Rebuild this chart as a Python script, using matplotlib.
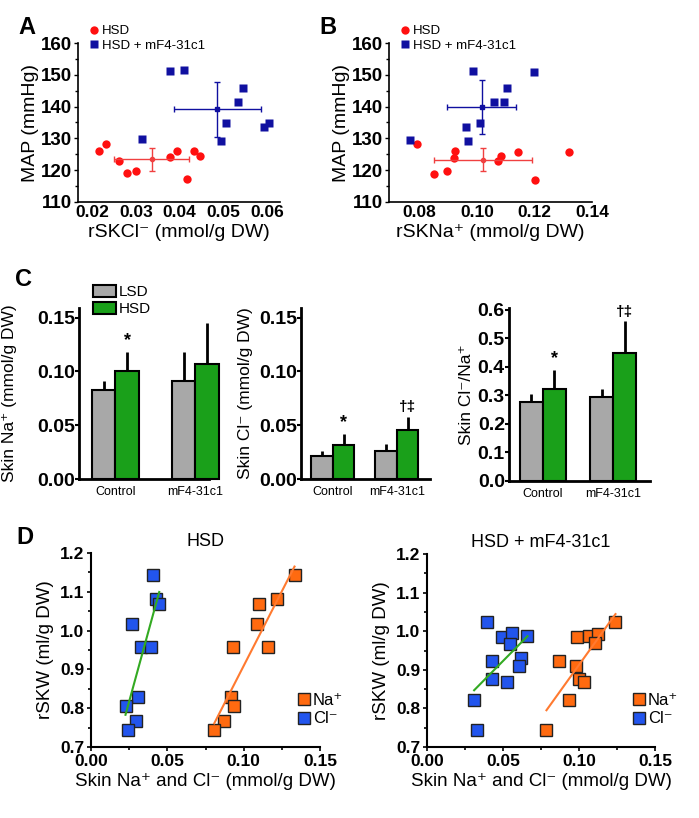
import numpy as np
import matplotlib
matplotlib.use("Agg")
import matplotlib.pyplot as plt
from matplotlib.patches import Patch
from matplotlib.lines import Line2D

plt.rcParams['font.family'] = ['Liberation Sans', 'DejaVu Sans']

# ---- panel A / B data (MAP vs skin ions) ----
a_hsd_x = [0.0216, 0.0232, 0.0262, 0.0280, 0.0299, 0.0377, 0.0395, 0.0416, 0.0432, 0.0446]
a_hsd_y = [126.0, 128.2, 122.9, 119.1, 119.7, 124.2, 126.0, 117.2, 126.0, 124.5]
a_mf4_x = [0.0313, 0.0379, 0.0409, 0.0494, 0.0506, 0.0533, 0.0545, 0.0594, 0.0605]
a_mf4_y = [129.8, 151.2, 151.5, 129.2, 134.8, 141.4, 145.8, 133.6, 134.8]

b_hsd_x = [0.0792, 0.0850, 0.0895, 0.0922, 0.0920, 0.1072, 0.1083, 0.1142, 0.1202, 0.1319]
b_hsd_y = [128.1, 118.8, 119.7, 126.0, 123.9, 122.8, 124.5, 125.8, 116.9, 125.8]
b_mf4_x = [0.0768, 0.0986, 0.1198, 0.1105, 0.1058, 0.1093, 0.0963, 0.1009, 0.0970]
b_mf4_y = [129.5, 151.3, 151.0, 145.8, 141.5, 141.5, 133.7, 134.8, 129.3]

# ---- panel C data (bars) ----
groups = ['Control', 'mF4-31c1']
na_lsd = [0.0831, 0.0915]
na_lsd_err = [0.0084, 0.0267]
na_hsd = [0.1006, 0.1071]
na_hsd_err = [0.0173, 0.0375]
cl_lsd = [0.0218, 0.0260]
cl_lsd_err = [0.0042, 0.0067]
cl_hsd = [0.0318, 0.0458]
cl_hsd_err = [0.0100, 0.0122]
ratio_lsd = [0.278, 0.296]
ratio_lsd_err = [0.027, 0.026]
ratio_hsd = [0.324, 0.450]
ratio_hsd_err = [0.066, 0.110]

# ---- panel D data ----
d1_na_x = [0.1333, 0.1219, 0.1103, 0.1088, 0.0932, 0.1162, 0.0917, 0.0939, 0.0868, 0.0807]
d1_cl_x = [0.0408, 0.0423, 0.0447, 0.0270, 0.0329, 0.0395, 0.0307, 0.0226, 0.0292, 0.0241]
d1_y = [1.144, 1.081, 1.069, 1.017, 0.959, 0.959, 0.829, 0.805, 0.766, 0.745]
d2_cl_x = [0.0393, 0.0495, 0.0561, 0.0661, 0.0546, 0.0430, 0.0616, 0.0605, 0.0426, 0.0524, 0.0310, 0.0331]
d2_cl_y = [1.025, 0.986, 0.995, 0.988, 0.968, 0.923, 0.930, 0.910, 0.875, 0.869, 0.821, 0.743]
d2_na_x = [0.1240, 0.0986, 0.1069, 0.1124, 0.1102, 0.0866, 0.0978, 0.0999, 0.1030, 0.0934, 0.0786]
d2_na_y = [1.025, 0.986, 0.988, 0.993, 0.969, 0.923, 0.910, 0.875, 0.869, 0.821, 0.743]

W, H = 699, 818
fig = plt.figure(figsize=(W / 100, H / 100), dpi=100)


def px_axes(l, t, r, b):
    return fig.add_axes([l / W, 1 - b / H, (r - l) / W, (b - t) / H])


def clean(ax, lw):
    for s in ['top', 'right']:
        ax.spines[s].set_visible(False)
    for s in ['left', 'bottom']:
        ax.spines[s].set_linewidth(lw)


RED = '#ff1010'
NAVY = '#1010a0'


def scatter_panel(ax, hx, hy, mx, my, xlim, xticks, xlabel):
    ax.plot(hx, hy, 'o', color=RED, ms=6, mec='none')
    ax.plot(mx, my, 's', color=NAVY, ms=5.5, mec='none')
    ax.errorbar(np.mean(hx), np.mean(hy), xerr=np.std(hx, ddof=1), yerr=np.std(hy, ddof=1),
                fmt='o', ms=3, color='#f04040', elinewidth=1, capsize=2.5, capthick=1)
    ax.errorbar(np.mean(mx), np.mean(my), xerr=np.std(mx, ddof=1), yerr=np.std(my, ddof=1),
                fmt='s', ms=3, color=NAVY, elinewidth=1, capsize=2.5, capthick=1)
    ax.set_xlim(xlim)
    ax.set_ylim(110, 160)
    ax.set_xticks(xticks)
    ax.set_xticklabels(['%.2f' % t for t in xticks], fontweight='bold', fontsize=12.5)
    ax.set_yticks([110, 120, 130, 140, 150, 160])
    ax.set_yticklabels(['110', '120', '130', '140', '150', '160'], fontweight='bold', fontsize=13.5)
    ax.set_yticks(np.arange(115, 160, 10), minor=True)
    ax.tick_params(axis='y', which='major', length=3, width=1, pad=1)
    ax.tick_params(axis='y', which='minor', length=2, width=1)
    ax.tick_params(axis='x', length=0, pad=2)
    ax.set_ylabel('MAP (mmHg)', fontsize=14, labelpad=2)
    ax.set_xlabel(xlabel, fontsize=14, labelpad=3)
    clean(ax, 1.2)
    handles = [Line2D([], [], marker='o', ls='none', color=RED, ms=6, mec='none'),
               Line2D([], [], marker='s', ls='none', color=NAVY, ms=5.5, mec='none')]
    ax.legend(handles, ['HSD', 'HSD + mF4-31c1'], loc='upper left', frameon=False,
              fontsize=9.5, handlelength=0.6, handletextpad=0.3, labelspacing=0.2,
              borderpad=0, borderaxespad=0,
              bbox_to_anchor=(ax.get_position().x0 + 12 / W, 1 - 25 / H),
              bbox_transform=fig.transFigure)


axA = px_axes(78, 43, 280, 202)
scatter_panel(axA, a_hsd_x, a_hsd_y, a_mf4_x, a_mf4_y, (0.0167, 0.063),
              [0.02, 0.03, 0.04, 0.05, 0.06], 'rSKCl\u207b (mmol/g DW)')
axB = px_axes(389, 43, 592, 202)
scatter_panel(axB, b_hsd_x, b_hsd_y, b_mf4_x, b_mf4_y, (0.0694, 0.14),
              [0.08, 0.10, 0.12, 0.14], 'rSKNa\u207a (mmol/g DW)')

GRAY = '#a8a8a8'
GREEN = '#1aa01a'


def bar_panel(ax, lsd, lsd_err, hsd, hsd_err, w, xlim, ylim, yticks, ylabel, marks, labelpad):
    pos = np.array([1.0, 2.0])
    ax.errorbar(pos - w / 2, lsd, yerr=[np.zeros(2), lsd_err], fmt='none', ecolor='black',
                elinewidth=2, capsize=0, zorder=1)
    ax.errorbar(pos + w / 2, hsd, yerr=[np.zeros(2), hsd_err], fmt='none', ecolor='black',
                elinewidth=2, capsize=0, zorder=1)
    ax.bar(pos - w / 2, lsd, w, color=GRAY, edgecolor='black', linewidth=1.5, zorder=2, clip_on=False)
    ax.bar(pos + w / 2, hsd, w, color=GREEN, edgecolor='black', linewidth=1.5, zorder=2, clip_on=False)
    for i, m in enumerate(marks):
        if m:
            ax.annotate(m, (pos[i] + w / 2, hsd[i] + hsd_err[i]), xytext=(0, 2),
                        textcoords='offset points', ha='center', va='bottom',
                        fontsize=13 if m == '*' else 11, fontweight='bold')
    ax.set_xlim(xlim)
    ax.set_ylim(ylim)
    ax.set_xticks(pos)
    ax.set_xticklabels(groups, fontsize=9)
    ax.set_yticks(yticks)
    ax.set_yticklabels(['%.2f' % t if ylim[1] < 0.3 else '%.1f' % t for t in yticks],
                       fontweight='bold', fontsize=14)
    ax.tick_params(axis='x', length=0, pad=5)
    ax.tick_params(axis='y', length=3, width=1.5, pad=0)
    ax.set_ylabel(ylabel, fontsize=12.5, labelpad=labelpad)
    clean(ax, 2)


axC1 = px_axes(79, 308, 209, 479)
bar_panel(axC1, na_lsd, na_lsd_err, na_hsd, na_hsd_err, 0.29, (0.544, 2.169), (0, 0.159),
          [0, 0.05, 0.10, 0.15], 'Skin Na\u207a (mmol/g DW)', ['*', ''], 14)
axC1.legend([Patch(facecolor=GRAY, edgecolor='black', linewidth=1.5),
             Patch(facecolor=GREEN, edgecolor='black', linewidth=1.5)], ['LSD', 'HSD'],
            loc='upper left', frameon=False, fontsize=11, handlelength=1.5, handleheight=0.8,
            handletextpad=0.2, labelspacing=0.2, borderpad=0, borderaxespad=0,
            bbox_to_anchor=(93 / W, 1 - 285 / H), bbox_transform=fig.transFigure)

axC2 = px_axes(301, 308, 430, 479)
bar_panel(axC2, cl_lsd, cl_lsd_err, cl_hsd, cl_hsd_err, 0.336, (0.5, 2.516), (0, 0.159),
          [0, 0.05, 0.10, 0.15], 'Skin Cl\u207b (mmol/g DW)', ['*', '\u2020\u2021'], 4)

axC3 = px_axes(509, 308, 650, 481)
bar_panel(axC3, ratio_lsd, ratio_lsd_err, ratio_hsd, ratio_hsd_err, 0.326, (0.518, 2.518), (0, 0.607),
          [0, 0.1, 0.2, 0.3, 0.4, 0.5, 0.6], 'Skin Cl\u207b/Na\u207a', ['*', '\u2020\u2021'], 3)

ORANGE = '#ff6a10'
BLUE = '#2255ee'


def fit_line(ax, x, y, color):
    x = np.asarray(x)
    k, b = np.polyfit(x, np.asarray(y), 1)
    xs = np.array([x.min(), x.max()])
    ax.plot(xs, k * xs + b, color=color, lw=1.5, zorder=3)


def d_panel(ax, nx, ny, cx, cy, title):
    ax.plot(nx, ny, 's', color=ORANGE, ms=8.5, mec='#222222', mew=1, zorder=2)
    ax.plot(cx, cy, 's', color=BLUE, ms=8.5, mec='#222222', mew=1, zorder=2)
    fit_line(ax, cx, cy, '#33aa22')
    fit_line(ax, nx, ny, '#ff7a30')
    ax.set_xlim(0, 0.15)
    ax.set_ylim(0.7, 1.2)
    ax.set_xticks([0, 0.05, 0.10, 0.15])
    ax.set_xticklabels(['0.00', '0.05', '0.10', '0.15'], fontweight='bold', fontsize=12.5)
    ax.set_yticks([0.7, 0.8, 0.9, 1.0, 1.1, 1.2])
    ax.set_yticklabels(['0.7', '0.8', '0.9', '1.0', '1.1', '1.2'], fontweight='bold', fontsize=12.5)
    ax.set_yticks(np.arange(0.75, 1.2, 0.1), minor=True)
    ax.set_xticks([0.025, 0.075, 0.125], minor=True)
    ax.tick_params(which='major', length=3, width=1.2, pad=2)
    ax.tick_params(which='minor', length=2, width=1.2)
    ax.set_ylabel('rSKW (ml/g DW)', fontsize=13.5, labelpad=4)
    ax.set_xlabel('Skin Na\u207a and Cl\u207b (mmol/g DW)', fontsize=13.5, labelpad=3)
    ax.set_title(title, fontsize=13, pad=5)
    clean(ax, 1.5)
    handles = [Line2D([], [], marker='s', ls='none', color=ORANGE, ms=8.5, mec='#222222', mew=1),
               Line2D([], [], marker='s', ls='none', color=BLUE, ms=8.5, mec='#222222', mew=1)]
    ax.legend(handles, ['Na\u207a', 'Cl\u207b'], loc='upper left', frameon=False, fontsize=12,
              handlelength=0.7, handletextpad=0.2, labelspacing=0.2, borderpad=0, borderaxespad=0,
              bbox_to_anchor=(ax.get_position().x1 - 22 / W, 1 - 693 / H),
              bbox_transform=fig.transFigure)


axD1 = px_axes(91, 553, 320, 747)
d_panel(axD1, d1_na_x, d1_y, d1_cl_x, d1_y, 'HSD')
axD2 = px_axes(427, 554, 655, 747)
d_panel(axD2, d2_na_x, d2_na_y, d2_cl_x, d2_cl_y, 'HSD + mF4-31c1')

for lab, x, y in [('A', 27, 27), ('B', 328, 27), ('C', 23, 280), ('D', 25, 538)]:
    fig.text(x / W, 1 - y / H, lab, fontsize=17, fontweight='bold', ha='center', va='center')

fig.savefig('out.png', dpi=100)
